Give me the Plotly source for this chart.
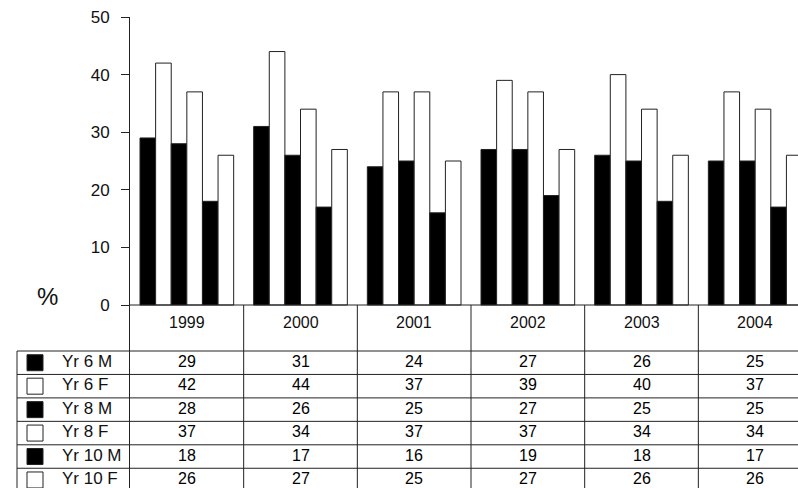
import plotly.graph_objects as go

years = ["1999", "2000", "2001", "2002", "2003", "2004"]
series_names = ["Yr 6 M", "Yr 6 F", "Yr 8 M", "Yr 8 F", "Yr 10 M", "Yr 10 F"]
yr6_m = [29, 31, 24, 27, 26, 25]
yr6_f = [42, 44, 37, 39, 40, 37]
yr8_m = [28, 26, 25, 27, 25, 25]
yr8_f = [37, 34, 37, 37, 34, 34]
yr10_m = [18, 17, 16, 19, 18, 17]
yr10_f = [26, 27, 25, 27, 26, 26]
series_values = [yr6_m, yr6_f, yr8_m, yr8_f, yr10_m, yr10_f]
series_fill = ["black", "white", "black", "white", "black", "white"]
y_ticks = [0, 10, 20, 30, 40, 50]

W, H = 798, 488
ML, MT = 130, 17
PX_PER_UNIT = (305 - MT) / 50.0
y_bottom = -(H - 305) / PX_PER_UNIT
n = len(years)
group_px = 113.67
x_right = -0.5 + (W - ML) / group_px

FONT = "Arial, Liberation Sans, sans-serif"


def py(pix):
    return (H - pix) / (H - MT)


def pxp(pix):
    return (pix - ML) / (W - ML)


fig = go.Figure()
xs = list(range(n))
for name, vals, fill in zip(series_names, series_values, series_fill):
    fig.add_trace(go.Bar(
        x=xs, y=vals, name=name,
        marker=dict(color=fill, line=dict(color="#222", width=1)),
        showlegend=False, hoverinfo="y+name",
    ))

shapes = []
annotations = []
LC = "#222"

# x axis line at 0
shapes.append(dict(type="line", xref="paper", yref="y", x0=0, x1=1, y0=0, y1=0,
                   line=dict(color=LC, width=1)))
# vertical separators in table
for i in range(n):
    xb = i + 0.5
    shapes.append(dict(type="line", xref="x", yref="y", x0=xb, x1=xb, y0=0, y1=y_bottom,
                       line=dict(color=LC, width=1)))

# row lines
row_top = 351
row_h = 23.45
for r in range(len(series_names) + 1):
    yy = row_top + r * row_h
    shapes.append(dict(type="line", xref="paper", yref="paper", x0=pxp(17), x1=1,
                       y0=py(yy), y1=py(yy), line=dict(color=LC, width=1)))
# left border of label table
shapes.append(dict(type="line", xref="paper", yref="paper", x0=pxp(17), x1=pxp(17),
                   y0=py(row_top), y1=py(H), line=dict(color=LC, width=1)))

# year headers
for i, yr in enumerate(years):
    annotations.append(dict(x=i, xref="x", y=py(322), yref="paper", text=yr,
                            showarrow=False, font=dict(size=16, color="#111", family=FONT),
                            xanchor="center", yanchor="middle"))

# rows
for r, (name, vals, fill) in enumerate(zip(series_names, series_values, series_fill)):
    yc = row_top + (r + 0.5) * row_h
    shapes.append(dict(type="rect", xref="paper", yref="paper",
                       x0=pxp(27), x1=pxp(43), y0=py(yc - 8), y1=py(yc + 8),
                       fillcolor=fill, line=dict(color=LC, width=1)))
    annotations.append(dict(x=pxp(61), xref="paper", y=py(yc - 1.5), yref="paper", text=name,
                            showarrow=False, font=dict(size=17, color="#111", family=FONT),
                            xanchor="left", yanchor="middle", borderpad=0))
    for i, v in enumerate(vals):
        annotations.append(dict(x=i, xref="x", y=py(yc - 1.5), yref="paper", text=str(v),
                                showarrow=False, font=dict(size=16, color="#000", family=FONT),
                                xanchor="center", yanchor="middle", borderpad=0))

annotations.append(dict(x=pxp(47), xref="paper", y=py(296), yref="paper", text="%",
                        showarrow=False, font=dict(size=24, color="#111", family=FONT),
                        xanchor="center", yanchor="middle"))

fig.update_layout(
    width=W, height=H,
    margin=dict(l=ML, r=0, t=MT, b=0, pad=0),
    paper_bgcolor="white", plot_bgcolor="white",
    barmode="group", bargap=0.176, bargroupgap=0,
    font=dict(family=FONT, size=16, color="#111"),
    shapes=shapes, annotations=annotations,
    xaxis=dict(range=[-0.5, x_right], showticklabels=False, showgrid=False,
               zeroline=False, showline=False, ticks="", fixedrange=True),
    yaxis=dict(range=[y_bottom, 50], tickvals=y_ticks, ticktext=[str(t) for t in y_ticks],
               showgrid=False, zeroline=False, showline=True, linecolor=LC, linewidth=1,
               ticks="outside", ticklen=8, tickcolor=LC, tickfont=dict(size=17, family=FONT),
               ticklabelstandoff=8, fixedrange=True),
)

fig.write_html("out.html")
